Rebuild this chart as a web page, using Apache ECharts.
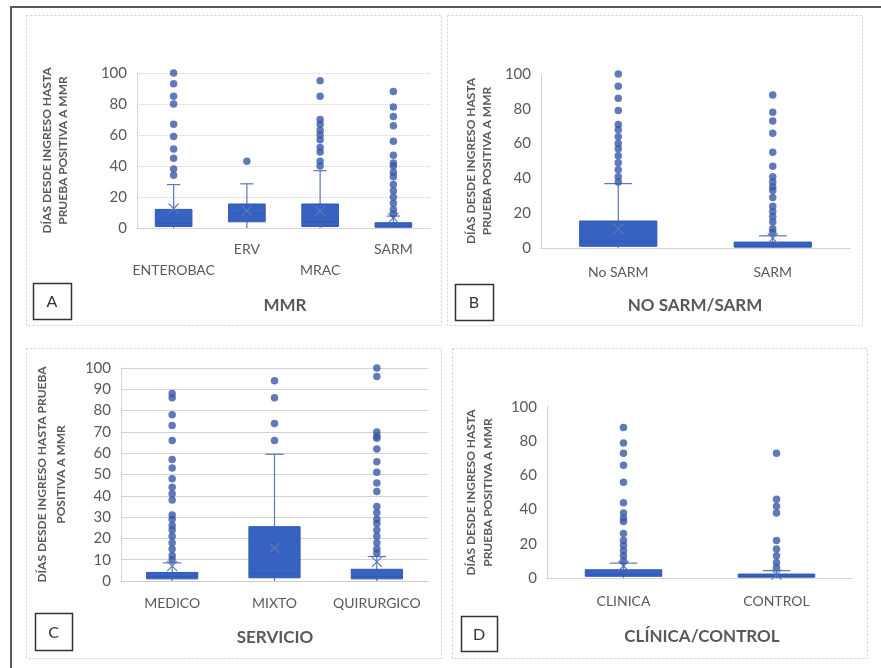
<!DOCTYPE html>
<html>
<head>
<meta charset="utf-8">
<script src="https://cdn.jsdelivr.net/npm/echarts@6/dist/echarts.min.js"></script>
<style>html,body{margin:0;padding:0;background:#fff;}#c{width:881px;height:668px;}</style>
</head>
<body>
<div id="c"></div>
<script>
// ---------- DATA ----------
// box rows: [low whisker, Q1, median, Q3, high whisker, mean]
const catsA = ['ENTEROBAC', 'ERV', 'MRAC', 'SARM'];
const boxA = [
  [0, 1, 3, 12, 28, 12.5],
  [0, 4, 9, 15.5, 28.5, 11],
  [0, 1, 4, 15.5, 37, 11],
  [0, 0.5, 1, 3.4, 7.7, 6.5]
];
const outA = [
  [100, 93, 85, 80, 67, 59, 51, 45, 38, 34],
  [43],
  [95, 85, 70, 67, 63, 60, 57, 52, 49, 43, 40],
  [88, 78, 72, 66, 56, 47, 42, 40, 36, 33, 28, 24, 20, 16, 12, 9]
];

const catsB = ['No SARM', 'SARM'];
const boxB = [
  [0, 1, 4, 15.5, 37, 11],
  [0, 0.5, 1, 3.4, 7, 5.5]
];
const outB = [
  [100, 93, 86, 79, 71, 68, 64, 60, 57, 53, 49, 45, 41, 38],
  [88, 78, 73, 66, 55, 47, 41, 38, 35, 33, 29, 24, 21, 18, 15, 11, 9]
];

const catsC = ['MEDICO', 'MIXTO', 'QUIRURGICO'];
const boxC = [
  [0, 1, 2, 4, 8.5, 7],
  [0, 1.5, 3.5, 25.5, 59.5, 15.5],
  [0, 1, 2, 5.5, 11.5, 9]
];
const outC = [
  [88, 86, 78, 73, 66, 57, 53, 48, 44, 41, 38, 31, 29, 26, 24, 21, 18, 15, 12, 10],
  [94, 86, 74, 66],
  [100, 96, 70, 68, 67, 62, 56, 51, 46, 42, 35, 32, 29, 27, 24, 21, 18, 15, 13]
];

const catsD = ['CLINICA', 'CONTROL'];
const boxD = [
  [0, 1, 2, 4.8, 8.7, 7],
  [0, 0.5, 1, 2.3, 4.3, 2]
];
const outD = [
  [88, 79, 73, 66, 56, 44, 38, 35, 33, 26, 22, 19, 16, 13, 10],
  [73, 46, 42, 38, 22, 17, 13, 9, 6]
];

const yTitleA = 'DÍAS DESDE INGRESO HASTA\nPRUEBA POSITIVA A MMR';
const yTitleC = 'DÍAS DESDE INGRESO HASTA PRUEBA\nPOSITIVA A MMR';
const panelTitles = ['MMR', 'NO SARM/SARM', 'SERVICIO', 'CLÍNICA/CONTROL'];
const panelLetters = ['A', 'B', 'C', 'D'];

// ---------- STYLE ----------
const FONT = 'Lato, "Open Sans", sans-serif';
const TXT = '#595959';
const BOX_FILL = '#3762C2';
const BOX_EDGE = '#3159B4';
const WHISK = '#5A78B4';
const DOT = '#3859A8';

function renderBox(params, api) {
  const i = api.value(0);
  const lo = api.coord([i, api.value(1)]);
  const q1 = api.coord([i, api.value(2)]);
  const md = api.coord([i, api.value(3)]);
  const q3 = api.coord([i, api.value(4)]);
  const hi = api.coord([i, api.value(5)]);
  const mn = api.coord([i, api.value(6)]);
  const bw = api.size([1, 0])[0] * 0.5;
  const cw = bw * 0.36;
  const x = lo[0];
  const ls = { stroke: WHISK, lineWidth: 1.2 };
  const m = 5;
  return {
    type: 'group',
    children: [
      { type: 'line', shape: { x1: x, y1: hi[1], x2: x, y2: q3[1] }, style: ls },
      { type: 'line', shape: { x1: x - cw / 2, y1: hi[1], x2: x + cw / 2, y2: hi[1] }, style: ls },
      { type: 'line', shape: { x1: x, y1: q1[1], x2: x, y2: lo[1] }, style: ls },
      { type: 'rect', shape: { x: x - bw / 2, y: q3[1], width: bw, height: Math.max(1, q1[1] - q3[1]) },
        style: { fill: BOX_FILL, stroke: BOX_EDGE, lineWidth: 1 } },
      { type: 'line', shape: { x1: x - bw / 2, y1: md[1], x2: x + bw / 2, y2: md[1] }, style: { stroke: BOX_EDGE, lineWidth: 1 } },
      { type: 'line', shape: { x1: x - m, y1: mn[1] - m, x2: x + m, y2: mn[1] + m }, style: { stroke: WHISK, lineWidth: 1.2 } },
      { type: 'line', shape: { x1: x - m, y1: mn[1] + m, x2: x + m, y2: mn[1] - m }, style: { stroke: WHISK, lineWidth: 1.2 } }
    ]
  };
}

const panels = [
  { cats: catsA, box: boxA, out: outA, grid: { left: 137, top: 73, width: 293, height: 155 }, interval: 20,
    yName: yTitleA, nameGap: 66, nameLH: 16, split: 'dotted', labMargin: 11, stagger: true },
  { cats: catsB, box: boxB, out: outB, grid: { left: 541, top: 74, width: 309, height: 174 }, interval: 20,
    yName: yTitleA, nameGap: 46, nameLH: 16, split: null, labMargin: 16, stagger: false },
  { cats: catsC, box: boxC, out: outC, grid: { left: 121, top: 368, width: 307, height: 213 }, interval: 10,
    yName: yTitleC, nameGap: 50, nameLH: 19, split: 'solid', labMargin: 14, stagger: false },
  { cats: catsD, box: boxD, out: outD, grid: { left: 547, top: 407, width: 306, height: 171 }, interval: 20,
    yName: yTitleA, nameGap: 50, nameLH: 17, split: null, labMargin: 15, stagger: false }
];

const grid = [], xAxis = [], yAxis = [], series = [];
panels.forEach((p, k) => {
  grid.push(p.grid);
  xAxis.push({
    type: 'category', gridIndex: k, data: p.cats, boundaryGap: true,
    axisTick: { show: false },
    axisLine: { show: true, lineStyle: { color: '#cccccc', type: 'dotted' } },
    axisLabel: {
      interval: 0, margin: p.labMargin, color: TXT, fontFamily: FONT, fontSize: 14,
      lineHeight: p.stagger ? 21 : 16,
      formatter: p.stagger ? (v, i) => (i % 2 === 0 ? '\n' + v : v) : null
    }
  });
  yAxis.push({
    type: 'value', gridIndex: k, min: 0, max: 100, interval: p.interval,
    name: p.yName, nameLocation: 'middle', nameRotate: 90, nameGap: p.nameGap,
    nameTextStyle: { fontFamily: FONT, fontWeight: 'bold', fontSize: 12, color: TXT, lineHeight: p.nameLH, align: 'center' },
    axisTick: { show: false },
    axisLine: { show: true, lineStyle: { color: '#cccccc', type: 'dotted' } },
    axisLabel: { color: TXT, fontFamily: FONT, fontSize: 15, margin: 10 },
    splitLine: p.split ? { show: true, lineStyle: { color: '#d2d2d2', type: p.split, width: 1 } } : { show: false }
  });
  series.push({
    type: 'custom', xAxisIndex: k, yAxisIndex: k, renderItem: renderBox,
    encode: { x: 0, y: [1, 2, 3, 4, 5, 6] },
    data: p.box.map((b, i) => [i].concat(b)), z: 2
  });
  const pts = [];
  p.out.forEach((arr, i) => arr.forEach(v => pts.push([i, v])));
  series.push({
    type: 'scatter', xAxisIndex: k, yAxisIndex: k, data: pts, symbol: 'circle', symbolSize: 7.5,
    itemStyle: { color: DOT }, z: 3
  });
});

const panelRects = [[26, 15, 415, 310], [447, 15, 415, 310], [26, 348, 415, 310], [452, 348, 415, 310]];
const letterBoxes = [[33, 283, 38, 36], [455, 284, 38, 36], [35, 613, 37, 37], [461, 616, 36, 35]];
const titlePos = [[285, 306], [695, 306], [275, 638], [702, 637]];

const graphic = [
  { type: 'line', shape: { x1: 10, y1: 7, x2: 881, y2: 7 }, style: { stroke: '#5a5a5a', lineWidth: 2 }, z: 10 },
  { type: 'line', shape: { x1: 11, y1: 6, x2: 11, y2: 668 }, style: { stroke: '#5a5a5a', lineWidth: 2 }, z: 10 }
];
panelRects.forEach(r => graphic.push({
  type: 'rect', shape: { x: r[0] + 0.5, y: r[1] + 0.5, width: r[2], height: r[3] },
  style: { fill: 'none', stroke: '#cfcfcf', lineWidth: 1, lineDash: [2, 2] }, silent: true, z: -1
}));
letterBoxes.forEach((r, k) => {
  graphic.push({
    type: 'rect', shape: { x: r[0] + 0.5, y: r[1] + 0.5, width: r[2], height: r[3] },
    style: { fill: '#fff', stroke: '#333', lineWidth: 1.5 }, z: 10
  });
  graphic.push({
    type: 'text', x: r[0] + r[2] / 2, y: r[1] + r[3] / 2 + 1,
    style: { text: panelLetters[k], align: 'center', verticalAlign: 'middle', font: '16px ' + FONT, fill: '#333' }, z: 11
  });
});
titlePos.forEach((p, k) => graphic.push({
  type: 'text', x: p[0], y: p[1],
  style: { text: panelTitles[k], align: 'center', verticalAlign: 'middle', font: 'bold 17px ' + FONT, fill: TXT }, z: 11
}));

const chart = echarts.init(document.getElementById('c'), null, { renderer: 'canvas' });
chart.setOption({
  animation: false,
  backgroundColor: '#fff',
  grid: grid, xAxis: xAxis, yAxis: yAxis, series: series, graphic: graphic
});
</script>
</body>
</html>
